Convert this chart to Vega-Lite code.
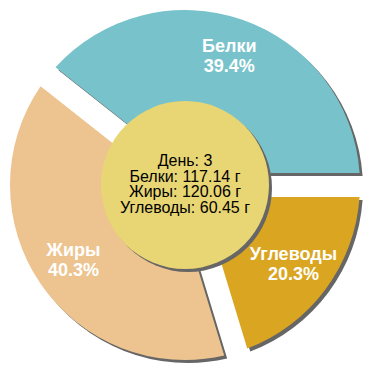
{
  "$schema": "https://vega.github.io/schema/vega-lite/v6.json",
  "width": 370,
  "height": 370,
  "autosize": {"type": "fit", "contains": "padding"},
  "padding": 0,
  "background": "white",
  "config": {"view": {"stroke": null}},
  "datasets": {
    "macro": [
      {"day": 3, "name": "Белки", "grams": 117.14, "pct": 39.4},
      {"day": 3, "name": "Жиры", "grams": 120.06, "pct": 40.3},
      {"day": 3, "name": "Углеводы", "grams": 60.45, "pct": 20.3}
    ]
  },
  "data": {"name": "macro"},
  "layer": [
    {
      "mark": {"type": "arc", "radius": 175, "radius2": 70, "padAngle": 0.128, "fill": "#666666", "x": {"expr": "width/2+3"}, "y": {"expr": "height/2+3"}},
      "encoding": {
        "theta": {"field": "grams", "type": "quantitative", "stack": true, "scale": {"range": [1.5708, 7.854]}},
        "order": {"field": "name", "sort": "descending"}
      }
    },
    {
      "mark": {"type": "arc", "radius": 175, "radius2": 70, "padAngle": 0.128},
      "encoding": {
        "theta": {"field": "grams", "type": "quantitative", "stack": true, "scale": {"range": [1.5708, 7.854]}},
        "order": {"field": "name", "sort": "descending"},
        "color": {"field": "name", "type": "nominal", "legend": null,
          "scale": {"domain": ["Белки", "Жиры", "Углеводы"], "range": ["#78C3CB", "#EDC490", "#DAA520"]}}
      }
    },
    {
      "transform": [{"calculate": "datum.name + '\\n' + format(datum.pct, '.1f') + '%'", "as": "label"}],
      "mark": {"type": "text", "radius": 135, "dy": -10, "font": "Liberation Sans", "fontWeight": "bold", "fontSize": 18, "fill": "white", "lineBreak": "\n", "lineHeight": 20, "align": "center", "baseline": "middle"},
      "encoding": {
        "theta": {"field": "grams", "type": "quantitative", "stack": true, "scale": {"range": [1.5708, 7.854]}},
        "order": {"field": "name", "sort": "descending"},
        "text": {"field": "label", "type": "nominal"}
      }
    },
    {
      "transform": [{"aggregate": [{"op": "count", "as": "n"}], "groupby": ["day"]}],
      "mark": {"type": "arc", "radius": 84, "theta": 0, "theta2": 6.2832, "fill": "#666666", "x": {"expr": "width/2+3"}, "y": {"expr": "height/2+3"}},
      "encoding": {}
    },
    {
      "transform": [{"aggregate": [{"op": "count", "as": "n"}], "groupby": ["day"]}],
      "mark": {"type": "arc", "radius": 84, "theta": 0, "theta2": 6.2832, "fill": "#E8D573"},
      "encoding": {}
    },
    {
      "transform": [
        {"pivot": "name", "value": "grams", "groupby": ["day"]},
        {"calculate": "'День: ' + datum.day + '\\nБелки: ' + format(datum['Белки'], '.2f') + ' г\\nЖиры: ' + format(datum['Жиры'], '.2f') + ' г\\nУглеводы: ' + format(datum['Углеводы'], '.2f') + ' г'", "as": "info"}
      ],
      "mark": {"type": "text", "dy": -24, "font": "Liberation Sans", "fontSize": 16, "fill": "black", "lineBreak": "\n", "lineHeight": 15.7, "align": "center", "baseline": "middle"},
      "encoding": {"text": {"field": "info", "type": "nominal"}}
    }
  ]
}
